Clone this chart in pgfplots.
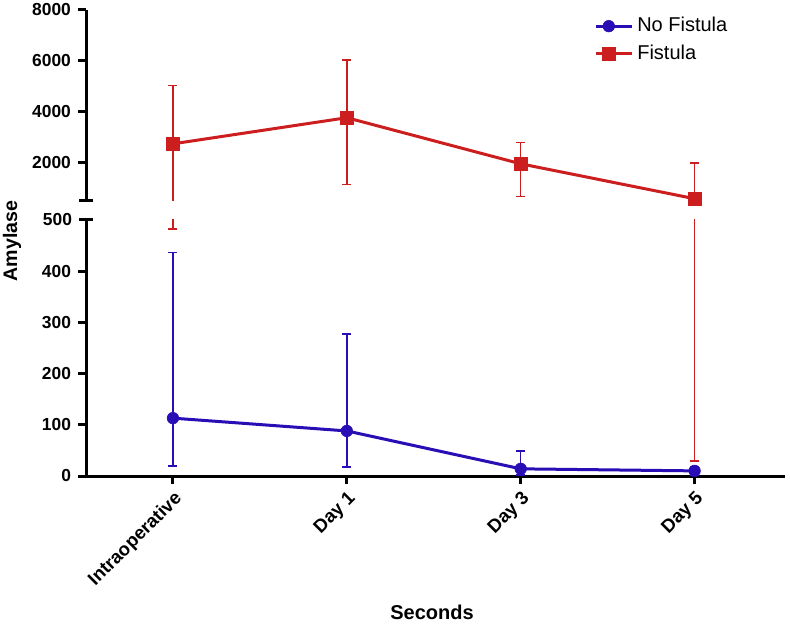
\documentclass[border=0pt]{standalone}
\usepackage{pgfplots}
\pgfplotsset{compat=1.18}
\usepackage{fontspec}
\setmainfont{Liberation Sans}
\definecolor{cblue}{RGB}{40,14,180}
\definecolor{cred}{RGB}{204,30,30}

\begin{document}
\begin{tikzpicture}
\useasboundingbox (0,0) rectangle (395pt,313pt);
\pgfplotsset{
 common/.style={
  scale only axis, width=349.5pt,
  xmin=-0.5, xmax=3.52,
  axis line style={line width=1.5pt, black},
  every tick/.style={line width=1.5pt, black},
  major tick length=4pt,
  tick align=outside,
  tick label style={font=\fontsize{8.7}{10}\selectfont\bfseries},
  /pgf/number format/assume math mode=true,
  /pgf/number format/1000 sep={},
  error bars/y dir=both, error bars/y explicit,
  error bars/error bar style={line width=0.75pt},
  error bars/error mark options={line width=0.75pt, mark size=2.25pt, rotate=90},
 },
 legline/.style={legend image code/.code={\path (0pt,0pt) -- (18pt,0pt); \draw[mark repeat=2,mark phase=2,##1] plot coordinates {(0pt,0pt) (6.5pt,0pt) (13pt,0pt)};}},
}
% lower segment
\begin{axis}[common, at={(43pt,75pt)}, anchor=south west, height=128pt,
 ymin=0, ymax=500, ytick={0,100,200,300,400},
 extra y ticks={500}, extra y tick style={tick align=center, major tick length=7pt},
 axis x line*=bottom, axis y line*=left,
 xtick={0,1,2,3}, xticklabels={Intraoperative, Day 1, Day 3, Day 5},
 x tick label style={rotate=45, anchor=north east, font=\fontsize{9.3}{11}\selectfont\bfseries},
 xticklabel shift=-2pt,
 minor x tick num=9, minor tick length=1.2pt]
\addplot[cred, line width=1.5pt, mark=none, forget plot] coordinates {
 (0,2745) += (0,2285) -= (0,2263)
 (1,3770) += (0,2270) -= (0,2620)
 (2,1960) += (0,830) -= (0,1290)
 (3,590) += (0,1410) -= (0,561)
};
\addplot[cblue, line width=1.5pt, mark=*, mark size=2.9pt, mark options={line width=0.3pt}, forget plot] coordinates {
 (0,113) += (0,324) -= (0,93)
 (1,88) += (0,189) -= (0,70)
 (2,14) += (0,35) -= (0,12)
 (3,10) += (0,8) -= (0,8)
};
\end{axis}
% upper segment
\begin{axis}[common, at={(43pt,212.5pt)}, anchor=south west, height=95.5pt,
 ymin=500, ymax=8000, ytick={2000,4000,6000,8000},
 extra y ticks={500}, extra y tick labels={}, extra y tick style={tick align=center, major tick length=7pt},
 axis x line=none, axis y line*=left, xtick=\empty,
 legend style={at={(0.718,1.005)}, anchor=north west, draw=none, fill=none,
   font=\fontsize{10}{12}\selectfont, row sep=1pt}, legend cell align=left, legline]
\addlegendimage{cblue, line width=1.5pt, mark=*, mark size=2.9pt, mark options={line width=0.3pt}}
\addlegendentry{No Fistula}
\addlegendimage{cred, line width=1.5pt, mark=square*, mark size=3.2pt, mark options={line width=0.3pt}}
\addlegendentry{Fistula}
\addplot[cred, line width=1.5pt, mark=none, forget plot] coordinates {
 (0,2745) += (0,2285) -= (0,2263)
 (1,3770) += (0,2270) -= (0,2620)
 (2,1960) += (0,830) -= (0,1290)
 (3,590) += (0,1410) -= (0,561)
};
\end{axis}
% overlay for unclipped markers of the upper segment
\begin{axis}[scale only axis, width=349.5pt, height=95.5pt, at={(43pt,212.5pt)}, anchor=south west,
 xmin=-0.5, xmax=3.52, ymin=500, ymax=8000, hide axis, clip=false]
\addplot[cred, only marks, mark=square*, mark size=3.2pt, mark options={line width=0.3pt}] coordinates {
 (0,2745) (1,3770) (2,1960) (3,590)
};
\end{axis}
\node[rotate=90, font=\fontsize{9.8}{11}\selectfont\bfseries] at (6pt,192.5pt) {Amylase};
\node[font=\fontsize{10}{12}\selectfont\bfseries] at (216pt,7pt) {Seconds};
\end{tikzpicture}
\end{document}
